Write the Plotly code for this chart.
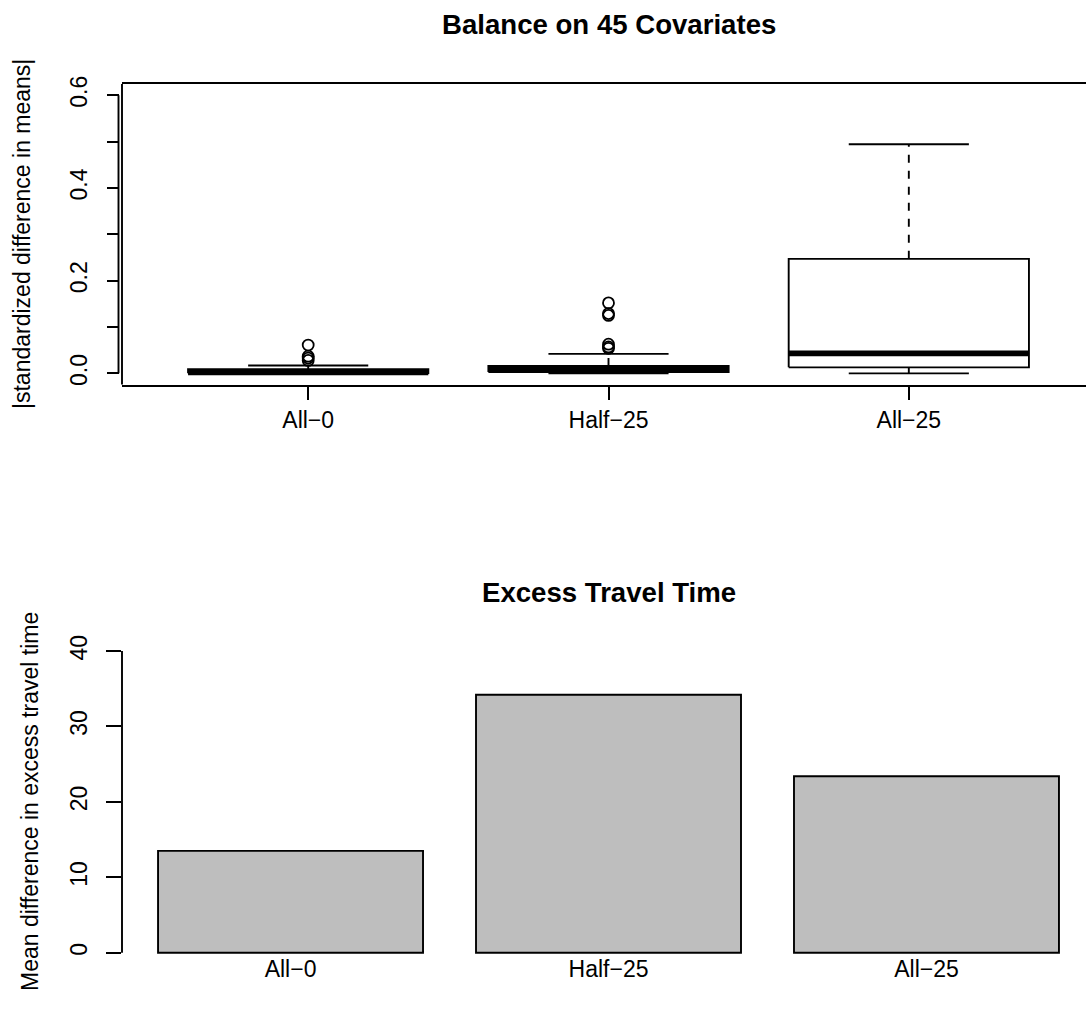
import plotly.graph_objects as go

W, H = 1086, 1009

# ---------------- data ----------------
categories = ["All−0", "Half−25", "All−25"]
box_lower = [0.0, 0.0, 0.0]
box_q1 = [0.0005, 0.003, 0.013]
box_median = [0.002, 0.009, 0.043]
box_q3 = [0.009, 0.016, 0.247]
box_upper = [0.017, 0.042, 0.494]
outliers_all0 = [0.061, 0.037, 0.033, 0.028]
outliers_half25 = [0.152, 0.129, 0.125, 0.063, 0.057, 0.054]
outliers_all25 = []

bar_values = [13.5, 34.2, 23.4]

y1_ticks = [0.0, 0.1, 0.2, 0.3, 0.4, 0.5, 0.6]
y1_ticktext = ["0.0", "", "0.2", "", "0.4", "", "0.6"]
y2_ticks = [0, 10, 20, 30, 40]

# ---------------- style ----------------
FONT = "Liberation Sans, Arial, Helvetica, sans-serif"
LW = 1.9
BASE = 23
TITLE = 27.6

fig = go.Figure()

outliers = [outliers_all0, outliers_half25, outliers_all25]
box_pos = [1, 2, 3]
hw = 0.4   # half box width
sw = 0.2   # half staple width
for i, xc in enumerate(box_pos):
    fig.add_trace(go.Scatter(
        x=[xc - hw, xc + hw, xc + hw, xc - hw, xc - hw],
        y=[box_q1[i], box_q1[i], box_q3[i], box_q3[i], box_q1[i]],
        mode="lines", line=dict(color="black", width=LW),
        xaxis="x", yaxis="y", showlegend=False, hoverinfo="skip"))
    fig.add_trace(go.Scatter(
        x=[xc, xc, None, xc, xc],
        y=[box_q3[i], box_upper[i], None, box_q1[i], box_lower[i]],
        mode="lines", line=dict(color="black", width=LW, dash="8px,8px"),
        xaxis="x", yaxis="y", showlegend=False, hoverinfo="skip"))
    fig.add_trace(go.Scatter(
        x=[xc - sw, xc + sw, None, xc - sw, xc + sw],
        y=[box_upper[i], box_upper[i], None, box_lower[i], box_lower[i]],
        mode="lines", line=dict(color="black", width=LW),
        xaxis="x", yaxis="y", showlegend=False, hoverinfo="skip"))
    fig.add_trace(go.Scatter(
        x=[xc - hw, xc + hw], y=[box_median[i], box_median[i]],
        mode="lines", line=dict(color="black", width=5.7),
        xaxis="x", yaxis="y", showlegend=False, hoverinfo="skip"))
    if outliers[i]:
        fig.add_trace(go.Scatter(
            x=[xc] * len(outliers[i]), y=outliers[i], mode="markers",
            marker=dict(symbol="circle-open", size=11, color="black",
                        line=dict(width=1.8, color="black")),
            xaxis="x", yaxis="y", showlegend=False, hoverinfo="skip"))

bar_pos = [0.7, 1.9, 3.1]
fig.add_trace(go.Bar(
    x=bar_pos, y=bar_values, width=1.0,
    marker=dict(color="#BEBEBE", line=dict(color="black", width=LW)),
    xaxis="x2", yaxis="y2", showlegend=False, hoverinfo="skip"))

# ---------------- layout ----------------
x_left = 122 / W
top_dom = [1 - 384.5 / H, 1 - 84 / H]
bot_dom = [1 - 964.8 / H, 1 - 639 / H]

axis_common = dict(showgrid=False, zeroline=False,
                   tickfont=dict(family=FONT, size=BASE, color="black"),
                   tickcolor="black", tickwidth=LW)

fig.update_layout(
    width=W, height=H,
    margin=dict(l=0, r=0, t=0, b=0, autoexpand=False),
    paper_bgcolor="white", plot_bgcolor="white",
    font=dict(family=FONT, color="black"),
    xaxis=dict(domain=[x_left, 1], range=[0.38, 3.59], anchor="y",
               tickvals=box_pos, ticktext=categories,
               ticks="outside", ticklen=14, showline=True, mirror=True,
               linecolor="black", linewidth=LW, ticklabelstandoff=0,
               **axis_common),
    yaxis=dict(domain=top_dom, range=[-0.024, 0.624], anchor="free",
               position=118.5 / W,
               tickvals=y1_ticks, ticktext=y1_ticktext, tickangle=-90,
               ticks="outside", ticklen=12, showline=False,
               ticklabelstandoff=10,
               **axis_common),
    xaxis2=dict(domain=[x_left, 1], range=[0.064, 3.702], anchor="y2",
                tickvals=bar_pos, ticktext=categories, ticks="",
                showline=False, ticklabelstandoff=-12,
                **axis_common),
    yaxis2=dict(domain=bot_dom, range=[-1.6, 41.6], anchor="x2",
                tickvals=y2_ticks, tickangle=-90,
                ticks="outside", ticklen=15, showline=False,
                ticklabelstandoff=10,
                **axis_common),
    shapes=[
        dict(type="line", xref="x domain", yref="y domain", x0=0, x1=0, y0=0, y1=1,
             line=dict(color="black", width=LW)),
        dict(type="line", xref="paper", yref="y", x0=118.5 / W, x1=118.5 / W,
             y0=y1_ticks[0], y1=y1_ticks[-1], line=dict(color="black", width=LW)),
        dict(type="line", xref="x2 domain", yref="y2", x0=0, x1=0,
             y0=y2_ticks[0], y1=y2_ticks[-1], line=dict(color="black", width=LW)),
    ],
    annotations=[
        dict(text="<b>Balance on 45 Covariates</b>", xref="paper", yref="paper",
             x=608.5 / W, y=1 - 25 / H, xanchor="center", yanchor="middle",
             showarrow=False, font=dict(family=FONT, size=TITLE, color="black")),
        dict(text="<b>Excess Travel Time</b>", xref="paper", yref="paper",
             x=608.5 / W, y=1 - 592 / H, xanchor="center", yanchor="middle",
             showarrow=False, font=dict(family=FONT, size=TITLE, color="black")),
        dict(text="|standardized difference in means|", xref="paper", yref="paper",
             x=22 / W, y=1 - 234 / H, xanchor="center", yanchor="middle",
             textangle=-90, showarrow=False,
             font=dict(family=FONT, size=BASE, color="black")),
        dict(text="Mean difference in excess travel time", xref="paper", yref="paper",
             x=30 / W, y=1 - 802 / H, xanchor="center", yanchor="middle",
             textangle=-90, showarrow=False,
             font=dict(family=FONT, size=BASE, color="black")),
    ],
)

fig.write_html("out.html",
               config={"displayModeBar": False},
               post_script="document.body.style.margin='0px';"
                           "document.documentElement.style.overflow='hidden';")
